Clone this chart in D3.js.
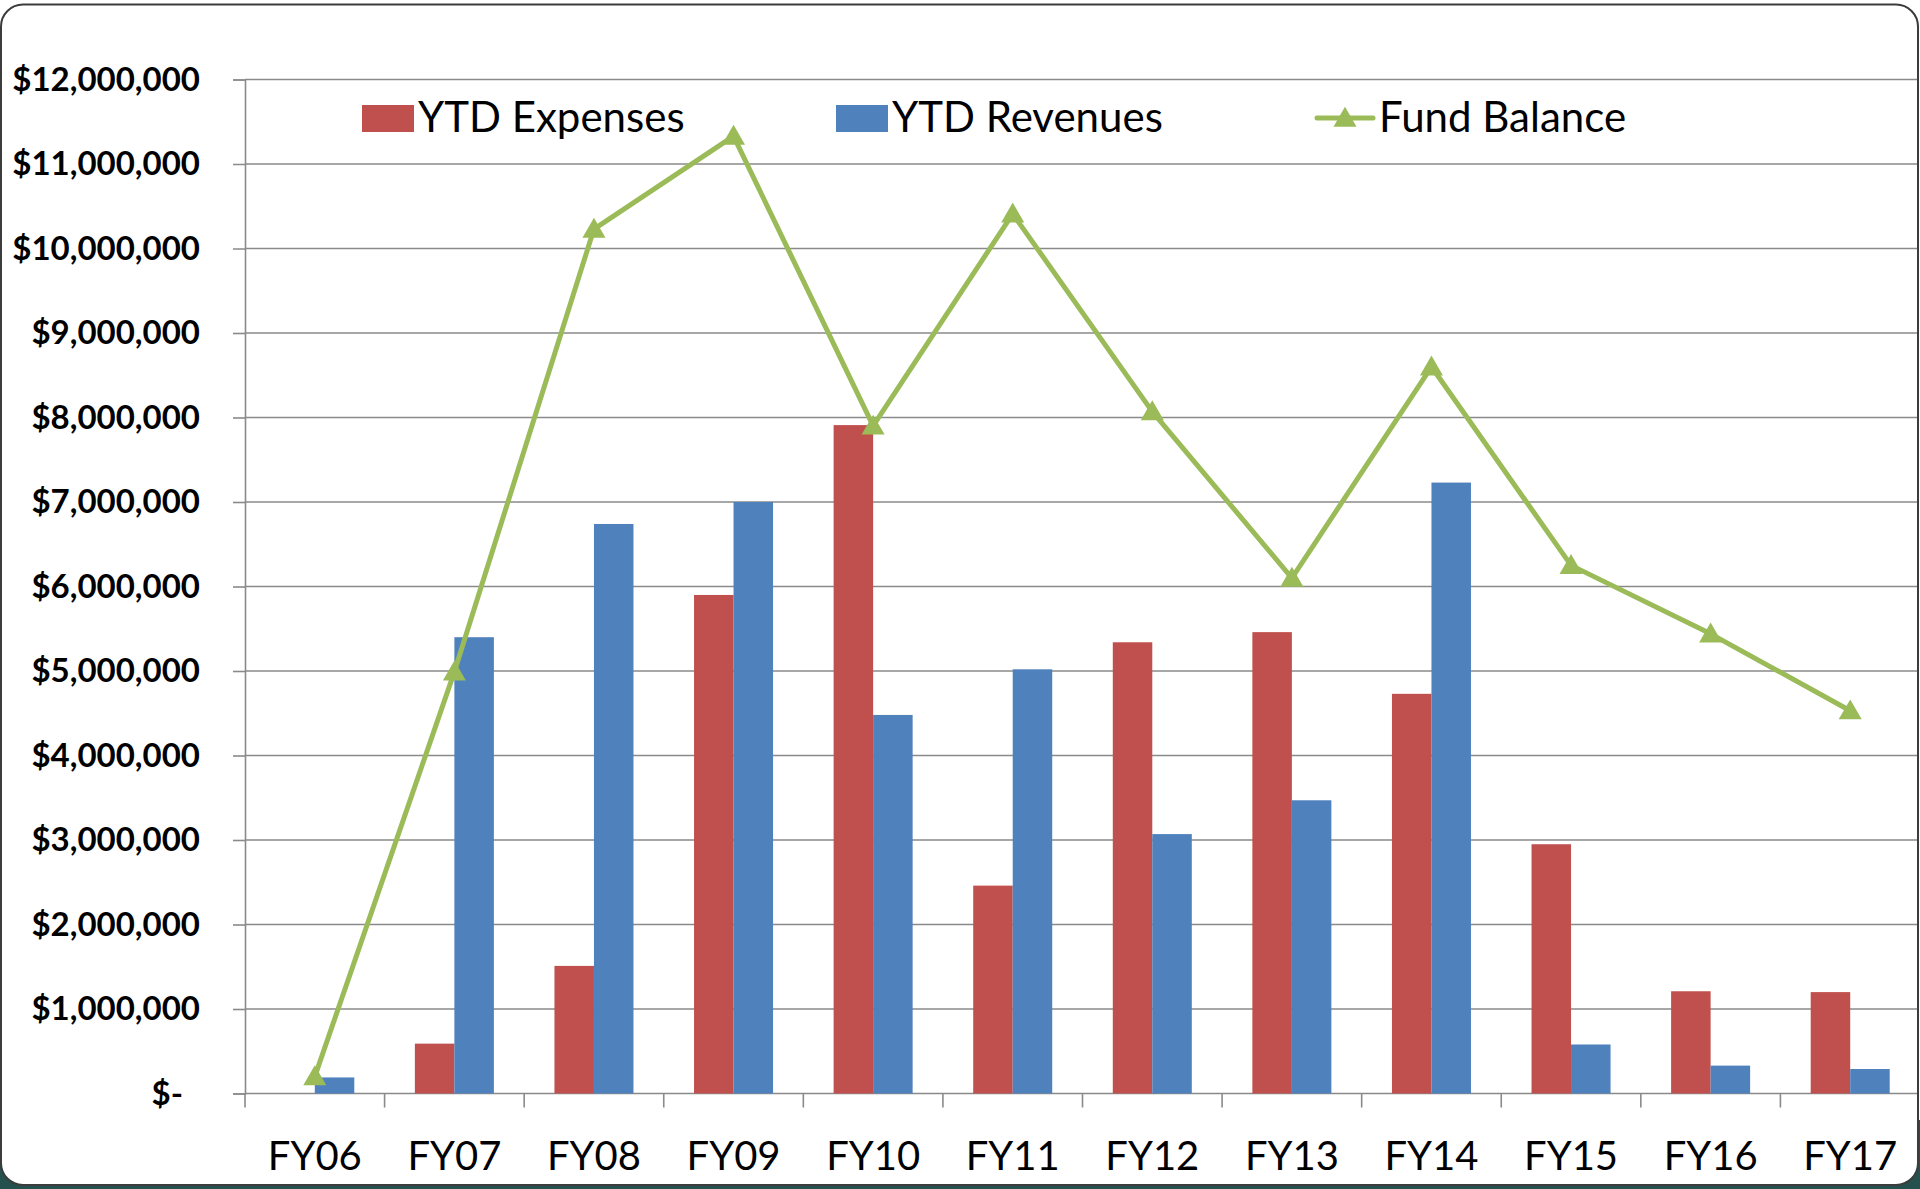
<!DOCTYPE html>
<html>
<head>
<meta charset="utf-8">
<script src="https://cdn.jsdelivr.net/npm/d3@7"></script>
<style>
  html, body { margin: 0; padding: 0; background: #ffffff; }
  svg { display: block; }
</style>
</head>
<body>
<svg id="chart"></svg>
<script>
// chart data
var categories = ["FY06", "FY07", "FY08", "FY09", "FY10", "FY11", "FY12", "FY13", "FY14", "FY15", "FY16", "FY17"]
var expenses = [0, 590000, 1510000, 5900000, 7910000, 2460000, 5340000, 5460000, 4730000, 2950000, 1210000, 1200000]
var revenues = [190000, 5400000, 6740000, 7000000, 4480000, 5020000, 3070000, 3470000, 7230000, 580000, 330000, 290000]
var fundBalance = [200000, 4990000, 10230000, 11330000, 7900000, 10410000, 8070000, 6100000, 8600000, 6250000, 5440000, 4530000]
var seriesNames = ["YTD Expenses", "YTD Revenues", "Fund Balance"]
var yTicks = [0, 1e6, 2e6, 3e6, 4e6, 5e6, 6e6, 7e6, 8e6, 9e6, 10e6, 11e6, 12e6]

var width = 1920
var height = 1189
var red = "#C0504D", blue = "#4F81BD", green = "#9BBB59", gridColor = "#8a8a8a"
var font = "Lato, 'Open Sans', 'DejaVu Sans', sans-serif"

var svg = d3.select("#chart").attr("width", width).attr("height", height)

// dark backdrop peeking out below the card
svg.append("rect").attr("x", 0).attr("y", 1120).attr("width", width).attr("height", height - 1120)
    .attr("fill", "#24504d")
// the white rounded card
svg.append("rect").attr("x", 1).attr("y", 4.5).attr("width", 1917).attr("height", 1180.5)
    .attr("rx", 22).attr("ry", 22)
    .attr("fill", "#ffffff").attr("stroke", "#3c3c3c").attr("stroke-width", 2)

var plot = { left: 245, right: 1920, top: 79.5, bottom: 1093.5 }

var x0 = d3.scaleBand().domain(categories).range([plot.left, plot.right]).padding(0)
var barW = x0.step() * 0.283
var x1 = d3.scaleBand().domain(["exp", "rev"])
    .range([x0.bandwidth() / 2 - barW, x0.bandwidth() / 2 + barW]).padding(0)
var y = d3.scaleLinear().domain([0, 12e6]).range([plot.bottom, plot.top])

var clip = svg.append("clipPath").attr("id", "card")
clip.append("rect").attr("x", 1).attr("y", 4.5).attr("width", 1916).attr("height", 1180).attr("rx", 22)

var g = svg.append("g").attr("clip-path", "url(#card)")

// horizontal gridlines
g.append("g").selectAll("line").data(yTicks).enter().append("line")
    .attr("x1", plot.left).attr("x2", plot.right)
    .attr("y1", d => y(d)).attr("y2", d => y(d))
    .attr("stroke", gridColor).attr("stroke-width", 1.6)

// y axis with labels
var yAxis = d3.axisLeft(y).tickValues(yTicks).tickSize(12).tickPadding(33)
    .tickFormat(d => d === 0 ? "$-" : "$" + d3.format(",")(d))
var yg = g.append("g").attr("transform", "translate(" + plot.left + ",0)").call(yAxis)
yg.select(".domain").attr("stroke", gridColor).attr("stroke-width", 1.6)
yg.selectAll(".tick line").attr("stroke", gridColor).attr("stroke-width", 1.6)
yg.selectAll(".tick text")
    .attr("font-family", font).attr("font-size", 33).attr("font-weight", "bold").attr("fill", "#000")
    .attr("dx", d => d === 0 ? -17 : 0)

// x axis: labels under each category, ticks on the boundaries
var xAxis = d3.axisBottom(x0).tickSize(0).tickPadding(48)
var xg = g.append("g").attr("transform", "translate(0," + plot.bottom + ")").call(xAxis)
xg.select(".domain").remove()
xg.selectAll(".tick text").attr("font-family", font).attr("font-size", 40).attr("fill", "#000")

g.append("g").selectAll("line").data(categories.concat([null])).enter().append("line")
    .attr("x1", (d, i) => plot.left + i * x0.step())
    .attr("x2", (d, i) => plot.left + i * x0.step())
    .attr("y1", plot.bottom).attr("y2", plot.bottom + 14)
    .attr("stroke", gridColor).attr("stroke-width", 1.6)

// bars
var rows = categories.map((c, i) => ({ cat: c, exp: expenses[i], rev: revenues[i] }))
var groups = g.append("g").selectAll("g").data(rows).enter().append("g")
    .attr("transform", d => "translate(" + x0(d.cat) + ",0)")
groups.selectAll("rect")
    .data(d => [{ key: "exp", v: d.exp }, { key: "rev", v: d.rev }])
    .enter().append("rect")
    .attr("x", d => x1(d.key))
    .attr("width", x1.bandwidth())
    .attr("y", d => y(d.v))
    .attr("height", d => y(0) - y(d.v))
    .attr("fill", d => d.key === "exp" ? red : blue)

// fund balance line + triangle markers
var pts = categories.map((c, i) => [x0(c) + x0.bandwidth() / 2, y(fundBalance[i])])
g.append("path").datum(pts)
    .attr("d", d3.line())
    .attr("fill", "none").attr("stroke", green).attr("stroke-width", 5)
    .attr("stroke-linejoin", "round")
var tri = d3.symbol().type(d3.symbolTriangle).size(230)
g.append("g").selectAll("path").data(pts).enter().append("path")
    .attr("d", tri)
    .attr("transform", d => "translate(" + d[0] + "," + (d[1] + 2) + ")")
    .attr("fill", green)

// legend
var legend = svg.append("g")
var legX = [362, 836, 1317]
legend.append("rect").attr("x", legX[0]).attr("y", 105).attr("width", 52).attr("height", 27).attr("fill", red)
legend.append("rect").attr("x", legX[1]).attr("y", 105).attr("width", 52).attr("height", 27).attr("fill", blue)
legend.append("line").attr("x1", legX[2]).attr("x2", legX[2] + 56).attr("y1", 118).attr("y2", 118)
    .attr("stroke", green).attr("stroke-width", 5).attr("stroke-linecap", "round")
legend.append("path").attr("d", tri).attr("transform", "translate(" + (legX[2] + 28) + ",120)").attr("fill", green)
legend.selectAll("text").data(seriesNames).enter().append("text")
    .attr("x", (d, i) => legX[i] + (i === 2 ? 62 : 56))
    .attr("y", 132)
    .attr("font-family", font).attr("font-size", 42).attr("fill", "#000")
    .text(d => d)
</script>
</body>
</html>
